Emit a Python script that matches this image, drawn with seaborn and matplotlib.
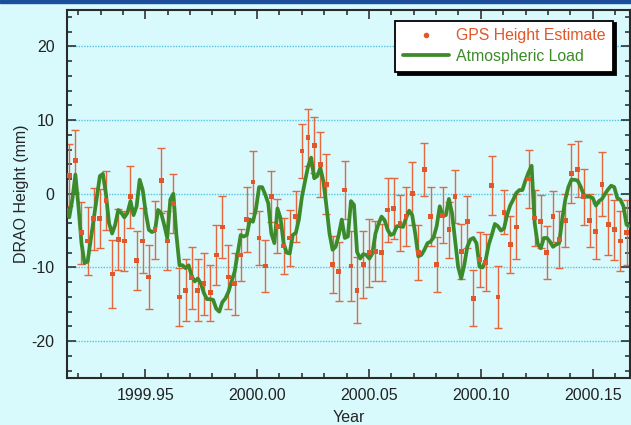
import numpy as np
import pandas as pd
import matplotlib.pyplot as plt
import seaborn as sns
from matplotlib.lines import Line2D
from matplotlib.patches import Rectangle
from matplotlib.ticker import MultipleLocator, FormatStrFormatter

# Time base: first GPS solution, one solution per day
start_year = 1999.916
days_per_year = 365.25

# GPS daily height estimates (day 74 missing)
gps_day = list(range(0, 74)) + list(range(75, 92))
gps_height = [
    2.5, 4.5, -5.3, -6.4, -3.4, -3.4, -0.9, -10.9, -6.2, -6.4,
    -0.4, -9.1, -6.4, -11.3, -4.9, 1.8, -6.4, -1.3, -14.0, -13.1,
    -11.4, -13.1, -12.2, -13.4, -8.3, -4.5, -11.3, -12.2, -8.3, -3.5,
    1.6, -6.0, -9.8, -0.4, -4.4, -7.1, -6.0, -3.1, 5.8, 7.6,
    6.6, 4.0, 1.3, -9.6, -10.5, 0.5, -9.8, -13.1, -9.6, -8.0,
    -7.8, -8.0, -2.2, -2.0, -4.0, -3.1, 0.0, -8.0, 3.3, -3.1,
    -9.6, -2.9, -4.9, -0.4, -7.8, -3.8, -14.2, -8.9, -9.3, 1.1,
    -14.0, -2.5, -6.9, -4.5, 2.0, -3.3, -3.8, -8.0, -3.1, -6.2,
    -3.6, 2.7, 3.3, -0.4, -3.6, -5.1, 1.3, -4.2, -4.9, -6.4,
    -5.3,
]
gps_sigma = [
    4.2, 4.2, 4.2, 4.6, 4.2, 4.0, 4.0, 4.6, 4.1, 4.1,
    4.2, 4.0, 4.4, 4.3, 3.9, 4.4, 4.0, 4.0, 3.9, 4.2,
    4.2, 4.2, 4.2, 3.8, 4.1, 4.2, 4.4, 4.2, 3.5, 4.4,
    4.2, 3.7, 3.5, 3.5, 3.7, 3.8, 3.8, 3.5, 3.7, 3.9,
    3.8, 4.4, 4.1, 3.9, 4.0, 3.9, 4.7, 4.5, 4.6, 4.6,
    4.1, 3.9, 4.4, 4.1, 3.8, 4.0, 4.3, 3.7, 3.6, 4.0,
    3.7, 3.8, 3.8, 3.6, 3.7, 3.5, 3.8, 3.7, 3.9, 4.0,
    4.2, 3.0, 3.9, 4.4, 4.0, 3.8, 3.6, 3.6, 3.5, 3.9,
    3.6, 4.0, 3.8, 3.8, 3.6, 3.8, 4.3, 4.1, 4.1, 4.1,
    4.4,
]

# Atmospheric loading, twice a day, starting half a day before the first GPS day
load_start_day = -0.5
load_step_day = 0.5
load_height = [
    -2.0,
    -3.2, -0.8, 2.6, -1.7, -6.7, -9.4, -9.2, -6.3, -3.5, -0.6,
    2.4, 2.7, -0.1, -4.0, -5.4, -4.2, -2.2, -2.6, -3.2, -2.6,
    -1.0, -2.9, -1.7, 1.9, 0.5, -2.6, -4.9, -5.2, -5.0, -2.2,
    -2.6, -4.2, -6.0, -0.8, 0.0, -5.6, -9.7, -9.7, -10.1, -9.7,
    -11.2, -11.9, -11.5, -12.2, -13.5, -14.3, -14.3, -14.4, -15.6, -16.0,
    -14.7, -14.2, -13.3, -11.9, -10.6, -8.1, -5.6, -5.8, -5.6, -3.5,
    -3.8, -2.0, 0.9, 0.9, -0.1, -1.3, -5.4, -6.7, -2.0, -3.3,
    -6.7, -8.0, -8.1, -5.6, -5.3, -3.5, -0.4, 1.7, 3.7, 4.9,
    2.1, 2.4, 3.5, 1.7, -1.7, -5.4, -7.6, -7.2, -5.6, -3.5,
    -6.0, -5.8, -1.0, -1.5, -7.9, -8.8, -8.2, -8.3, -8.8, -8.1,
    -5.4, -4.1, -3.1, -3.6, -4.9, -5.6, -5.4, -4.4, -4.4, -4.5,
    -3.3, -2.3, -2.9, -5.4, -8.5, -8.3, -7.6, -6.7, -6.5, -5.9,
    -4.4, -1.7, -3.0, -2.9, -0.7, -2.6, -6.3, -9.9, -11.5, -9.7,
    -7.2, -6.2, -6.0, -6.7, -9.9, -10.0, -9.0, -6.9, -5.6, -4.1,
    -4.4, -5.0, -4.7, -2.9, -1.6, -0.8, 0.1, 0.5, 0.5, 1.8,
    2.9, 3.8, -4.0, -6.8, -7.4, -6.0, -6.0, -6.5, -7.2, -6.9,
    -6.7, -3.5, -0.8, 0.9, 1.9, 1.9, 1.8, 1.0, -0.1, -0.4,
    -0.4, -0.6, -1.6, -1.0, -0.7, 0.0, 0.6, 1.1, 0.9, -0.6,
    -0.8, -1.7, -4.2, -4.4,
]

gps = pd.DataFrame({
    "Year": start_year + np.array(gps_day) / days_per_year,
    "Height": gps_height,
    "Sigma": gps_sigma,
})
load_days = load_start_day + load_step_day * np.arange(len(load_height))
load = pd.DataFrame({
    "Year": start_year + load_days / days_per_year,
    "Height": load_height,
})

bg = "#d8fafd"
gps_color = "#e0572b"
bar_color = "#e4673d"
load_color = "#3d8a2a"

sns.set_style("ticks")
plt.rcParams["font.family"] = ["Liberation Sans", "DejaVu Sans"]
plt.rcParams["axes.unicode_minus"] = False

fig = plt.figure(figsize=(6.31, 4.25), dpi=100, facecolor=bg)
ax = fig.add_axes([0.1062, 0.1106, 0.8922, 0.867])
ax.set_facecolor(bg)

# dotted horizontal grid at the labelled heights
for yv in [-20, -10, 0, 10, 20]:
    ax.axhline(yv, color="#55c3e2", lw=1.0, ls=(0, (1, 1)), zorder=0)

ax.errorbar(gps["Year"], gps["Height"], yerr=gps["Sigma"], fmt="none",
            ecolor=bar_color, elinewidth=1.0, capsize=2.8, capthick=1.0, zorder=2)
sns.lineplot(data=load, x="Year", y="Height", color=load_color, lw=2.7, ax=ax, zorder=3)
sns.scatterplot(data=gps, x="Year", y="Height", color=gps_color, s=12, marker="s",
                edgecolor="none", ax=ax, zorder=4)

ax.set_xlim(1999.915, 2000.1667)
ax.set_ylim(-25, 25)
ax.xaxis.set_major_locator(MultipleLocator(0.05))
ax.xaxis.set_minor_locator(MultipleLocator(0.01))
ax.xaxis.set_major_formatter(FormatStrFormatter("%.2f"))
ax.yaxis.set_major_locator(MultipleLocator(10))
ax.yaxis.set_minor_locator(MultipleLocator(2))
ax.tick_params(which="both", direction="in", top=True, right=True,
               labelsize=11.5, colors="#222222", width=1.1)
ax.tick_params(which="major", length=6.5)
ax.tick_params(axis="x", which="major", pad=7)
ax.tick_params(axis="y", which="major", pad=9)
ax.tick_params(which="minor", length=3.5)
for side in ["left", "bottom", "top", "right"]:
    ax.spines[side].set_color("#2a2a2a")
    ax.spines[side].set_linewidth(1.5)

ax.set_xlabel("Year", fontsize=11.5, labelpad=5)
ax.set_ylabel("DRAO Height (mm)", fontsize=11.5, labelpad=2)

handles = [
    Line2D([], [], marker="o", ls="none", color=gps_color, ms=3),
    Line2D([], [], color=load_color, lw=2.7),
]
leg = ax.legend(handles, ["GPS Height Estimate", "Atmospheric Load"],
                loc="upper right", bbox_to_anchor=(0.970, 0.970), borderaxespad=0,
                fontsize=11.4, frameon=True, fancybox=False, framealpha=1,
                edgecolor="black", shadow={"color": "black", "alpha": 1},
                handlelength=2.9, handletextpad=0.45, labelspacing=0.35,
                borderpad=0.5)
leg.get_frame().set_linewidth(1.3)
leg.texts[0].set_color(gps_color)
leg.texts[1].set_color(load_color)

# dark blue band along the top of the figure
fig.add_artist(Rectangle((0, 1 - 3 / 425), 1, 3 / 425, transform=fig.transFigure,
                         color="#1b4f9c", zorder=10))

fig.savefig("out.png", dpi=100, facecolor=bg)
